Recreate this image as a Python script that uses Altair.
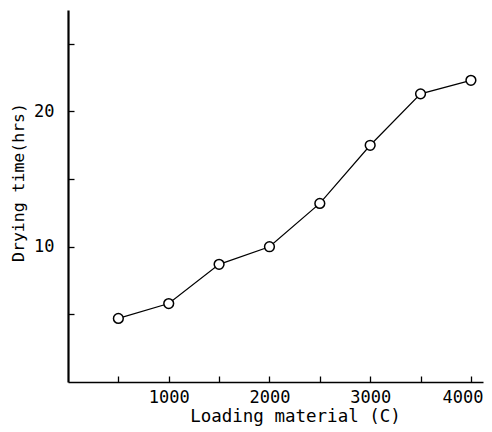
import altair as alt
import pandas as pd

loading = [500, 1000, 1500, 2000, 2500, 3000, 3500, 4000]
drying = [4.7, 5.8, 8.7, 10.0, 13.2, 17.5, 21.3, 22.3]
x_label_values = [1000, 2000, 3000, 4000]
x_tick_values = [500, 1000, 1500, 2000, 2500, 3000, 3500, 4000]
y_label_values = [10, 20]
y_tick_values = [5, 10, 15, 20, 25]

df = pd.DataFrame({"loading": loading, "drying": drying})

W, H = 415, 372
FONT = "DejaVu Sans Mono"

xscale = alt.Scale(domain=[0, 4120], nice=False, zero=False)
yscale = alt.Scale(domain=[0, 27.5], nice=False, zero=False)

line = alt.Chart(df).mark_line(color="black", strokeWidth=1.2).encode(
    x=alt.X("loading:Q", scale=xscale, axis=alt.Axis(
        values=x_label_values, format="d", ticks=False, tickSize=0, grid=False,
        domainColor="black", domainWidth=1.6,
        labelFont=FONT, labelFontSize=17, labelColor="black",
        labelBaseline="middle", labelPadding=15,
        labelFlush=15, labelFlushOffset=12,
        title="Loading material (C)", titleFont=FONT, titleFontSize=17.5,
        titleFontWeight="normal", titleColor="black",
        titleX=227, titleY=34, titleAlign="center", titleBaseline="middle")),
    y=alt.Y("drying:Q", scale=yscale, axis=alt.Axis(
        values=y_label_values, format="d", ticks=False, tickSize=0, grid=False,
        domainColor="black", domainWidth=2.2,
        labelFont=FONT, labelFontSize=17, labelColor="black",
        labelPadding=14, labelAlign="right", labelBaseline="middle",
        title="Drying time(hrs)", titleFont=FONT, titleFontSize=16.5,
        titleFontWeight="normal", titleColor="black", titleAngle=270,
        titleX=-50, titleY=172, titleAlign="center", titleBaseline="middle")),
)

points = alt.Chart(df).mark_point(
    shape="circle", size=95, filled=True, fill="white", stroke="black",
    strokeWidth=1.5, opacity=1
).encode(
    x=alt.X("loading:Q", scale=xscale, axis=alt.Axis(
        orient="top", offset=-H, values=x_tick_values, labels=False, domain=False,
        ticks=True, tickSize=6, tickWidth=1.3, tickColor="black", grid=False, title=None)),
    y=alt.Y("drying:Q", scale=yscale, axis=alt.Axis(
        orient="right", offset=-W, values=y_tick_values, labels=False, domain=False,
        ticks=True, tickSize=6, tickWidth=1.3, tickColor="black", grid=False, title=None)),
)

chart = alt.layer(line, points).resolve_axis(
    x="independent", y="independent"
).properties(
    width=W, height=H,
    autosize=alt.AutoSizeParams(type="none"),
    padding={"left": 60, "top": 2, "right": 1, "bottom": 50},
    background="white",
).configure_view(stroke=None)

chart.save("out.html", embed_options={"renderer": "svg", "actions": False})
